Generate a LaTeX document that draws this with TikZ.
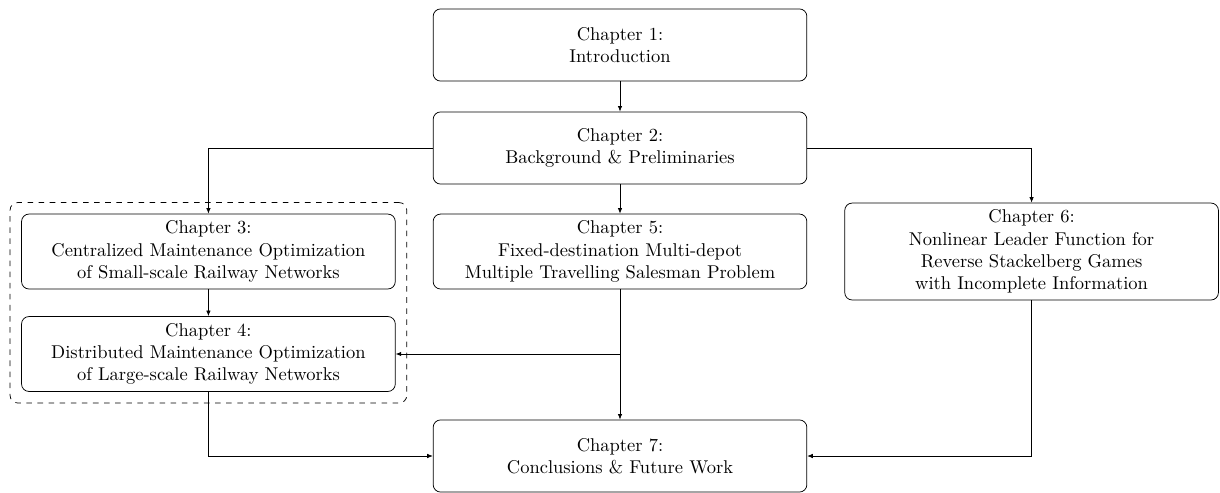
\documentclass[tikz,border=0pt]{standalone}
\usetikzlibrary{fit,arrows.meta}

\tikzset{
	chapter/.style = {draw = black,
					  shape = rectangle,
					  rounded corners,
					  align = center,
					  minimum width = 7.1cm,
					  minimum height = 1.37cm,
					  inner sep = 3.7pt},
	link/.style = {-{Latex[length=3pt,width=2.4pt]}}
}

\begin{document}
\begin{tikzpicture}
	\useasboundingbox (0, 0) rectangle (23.18, -9.367);

	\draw (11.78, -0.855) node[chapter](ch1){Chapter 1:\\Introduction};
	\draw (11.78, -2.812) node[chapter](ch2){Chapter 2:\\Background \& Preliminaries};
	\draw (3.96, -4.779) node[chapter](ch3){Chapter 3:\\Centralized Maintenance Optimization\\of Small-scale Railway Networks};
	\draw (3.96, -6.726) node[chapter](ch4){Chapter 4:\\Distributed Maintenance Optimization\\of Large-scale Railway Networks};
	\draw (11.78, -4.779) node[chapter](ch5){Chapter 5:\\Fixed-destination Multi-depot\\Multiple Travelling Salesman Problem};
	\draw (19.6, -4.779) node[chapter](ch6){Chapter 6:\\Nonlinear Leader Function for\\Reverse Stackelberg Games\\with Incomplete Information};
	\draw (11.78, -8.664) node[chapter](ch7){Chapter 7:\\Conclusions \& Future Work};

	% grouped chapters
	\node[draw = black,
		  dashed,
		  rounded corners,
		  inner sep = 6pt,
		  fit = (ch3) (ch4)
	](grp){};

	\draw[link] (ch1) -- (ch2);
	\draw[link] (ch2.west) -| (ch3.north);
	\draw[link] (ch2) -- (ch5);
	\draw[link] (ch2.east) -| (ch6.north);

	\draw[link] (ch3) -- (ch4);
	\draw[link] (ch5.south) |- (ch4.east);
	\draw[link] (ch5) -- (ch7);

	\draw[link] (ch4.south) |- (ch7.west);
	\draw[link] (ch6.south) |- (ch7.east);
\end{tikzpicture}
\end{document}
